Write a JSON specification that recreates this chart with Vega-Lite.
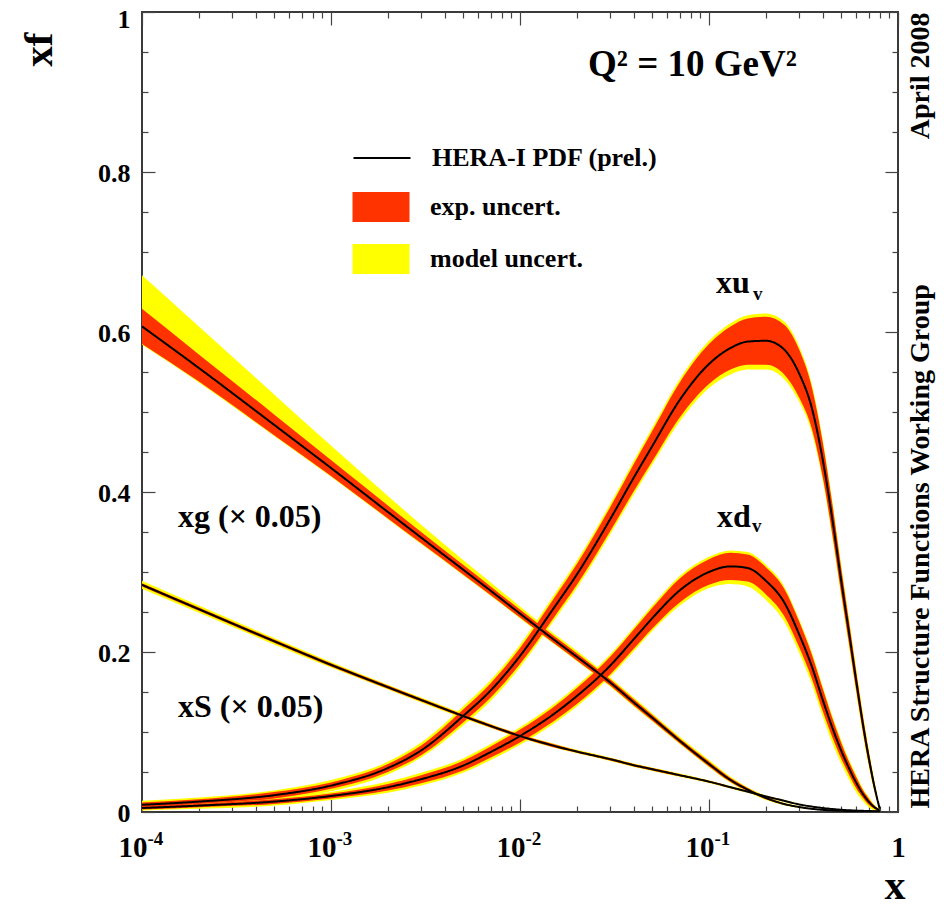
{
  "$schema": "https://vega.github.io/schema/vega-lite/v6.json",
  "width": 756,
  "height": 800,
  "autosize": {"type": "none"},
  "padding": {"left": 142, "top": 12, "right": 46, "bottom": 96},
  "background": "white",
  "config": {
    "view": {"stroke": "#3a3a3a", "strokeWidth": 2},
    "font": "Liberation Serif",
    "axis": {
      "domain": false, "grid": false,
      "labelFont": "Liberation Serif", "labelFontWeight": "bold", "labelColor": "black",
      "tickColor": "#444", "tickWidth": 1.2,
      "titleFont": "Liberation Serif", "titleFontWeight": "bold", "titleColor": "black",
      "labelFlush": false, "labelOverlap": false, "labelBound": false
    },
    "legend": {
      "orient": "none", "padding": 0,
      "labelFont": "Liberation Serif", "labelFontWeight": "bold", "labelFontSize": 26, "labelColor": "black",
      "labelOffset": 34, "labelLimit": 500, "rowPadding": 20, "symbolSize": 900
    }
  },
  "datasets": {
    "pdf": [
      {"c": "xuv", "x": 0.0001, "y": 0.009, "el": 0.006, "eh": 0.012, "ml": 0.004, "mh": 0.014},
      {"c": "xuv", "x": 0.0002, "y": 0.013, "el": 0.010, "eh": 0.016, "ml": 0.008, "mh": 0.018},
      {"c": "xuv", "x": 0.0005, "y": 0.021, "el": 0.017, "eh": 0.025, "ml": 0.015, "mh": 0.027},
      {"c": "xuv", "x": 0.001, "y": 0.033, "el": 0.029, "eh": 0.037, "ml": 0.026, "mh": 0.040},
      {"c": "xuv", "x": 0.002, "y": 0.055, "el": 0.050, "eh": 0.060, "ml": 0.047, "mh": 0.063},
      {"c": "xuv", "x": 0.003, "y": 0.077, "el": 0.071, "eh": 0.083, "ml": 0.068, "mh": 0.087},
      {"c": "xuv", "x": 0.005, "y": 0.120, "el": 0.112, "eh": 0.128, "ml": 0.108, "mh": 0.132},
      {"c": "xuv", "x": 0.007, "y": 0.152, "el": 0.143, "eh": 0.161, "ml": 0.139, "mh": 0.165},
      {"c": "xuv", "x": 0.01, "y": 0.195, "el": 0.185, "eh": 0.205, "ml": 0.181, "mh": 0.209},
      {"c": "xuv", "x": 0.015, "y": 0.254, "el": 0.242, "eh": 0.266, "ml": 0.238, "mh": 0.270},
      {"c": "xuv", "x": 0.02, "y": 0.297, "el": 0.284, "eh": 0.310, "ml": 0.280, "mh": 0.314},
      {"c": "xuv", "x": 0.03, "y": 0.366, "el": 0.351, "eh": 0.381, "ml": 0.347, "mh": 0.385},
      {"c": "xuv", "x": 0.04, "y": 0.418, "el": 0.401, "eh": 0.435, "ml": 0.397, "mh": 0.439},
      {"c": "xuv", "x": 0.05, "y": 0.457, "el": 0.438, "eh": 0.476, "ml": 0.434, "mh": 0.480},
      {"c": "xuv", "x": 0.07, "y": 0.515, "el": 0.493, "eh": 0.537, "ml": 0.488, "mh": 0.541},
      {"c": "xuv", "x": 0.1, "y": 0.560, "el": 0.535, "eh": 0.585, "ml": 0.530, "mh": 0.589},
      {"c": "xuv", "x": 0.13, "y": 0.580, "el": 0.553, "eh": 0.607, "ml": 0.547, "mh": 0.611},
      {"c": "xuv", "x": 0.16, "y": 0.588, "el": 0.559, "eh": 0.617, "ml": 0.553, "mh": 0.621},
      {"c": "xuv", "x": 0.2, "y": 0.589, "el": 0.559, "eh": 0.619, "ml": 0.553, "mh": 0.623},
      {"c": "xuv", "x": 0.25, "y": 0.578, "el": 0.547, "eh": 0.609, "ml": 0.541, "mh": 0.613},
      {"c": "xuv", "x": 0.3, "y": 0.548, "el": 0.518, "eh": 0.578, "ml": 0.513, "mh": 0.582},
      {"c": "xuv", "x": 0.35, "y": 0.505, "el": 0.479, "eh": 0.531, "ml": 0.474, "mh": 0.535},
      {"c": "xuv", "x": 0.4, "y": 0.440, "el": 0.418, "eh": 0.462, "ml": 0.414, "mh": 0.466},
      {"c": "xuv", "x": 0.45, "y": 0.365, "el": 0.346, "eh": 0.384, "ml": 0.342, "mh": 0.388},
      {"c": "xuv", "x": 0.5, "y": 0.290, "el": 0.274, "eh": 0.306, "ml": 0.270, "mh": 0.310},
      {"c": "xuv", "x": 0.55, "y": 0.225, "el": 0.211, "eh": 0.239, "ml": 0.207, "mh": 0.243},
      {"c": "xuv", "x": 0.6, "y": 0.165, "el": 0.153, "eh": 0.177, "ml": 0.149, "mh": 0.181},
      {"c": "xuv", "x": 0.65, "y": 0.112, "el": 0.102, "eh": 0.122, "ml": 0.098, "mh": 0.126},
      {"c": "xuv", "x": 0.7, "y": 0.068, "el": 0.060, "eh": 0.076, "ml": 0.057, "mh": 0.079},
      {"c": "xuv", "x": 0.75, "y": 0.032, "el": 0.027, "eh": 0.037, "ml": 0.025, "mh": 0.039},
      {"c": "xuv", "x": 0.8, "y": 0.004, "el": 0.003, "eh": 0.005, "ml": 0.002, "mh": 0.006},

      {"c": "xdv", "x": 0.0001, "y": 0.005, "el": 0.003, "eh": 0.007, "ml": 0.002, "mh": 0.008},
      {"c": "xdv", "x": 0.0002, "y": 0.008, "el": 0.006, "eh": 0.010, "ml": 0.004, "mh": 0.012},
      {"c": "xdv", "x": 0.0005, "y": 0.013, "el": 0.010, "eh": 0.016, "ml": 0.008, "mh": 0.018},
      {"c": "xdv", "x": 0.001, "y": 0.020, "el": 0.017, "eh": 0.023, "ml": 0.015, "mh": 0.025},
      {"c": "xdv", "x": 0.002, "y": 0.031, "el": 0.027, "eh": 0.035, "ml": 0.024, "mh": 0.038},
      {"c": "xdv", "x": 0.003, "y": 0.041, "el": 0.036, "eh": 0.046, "ml": 0.033, "mh": 0.049},
      {"c": "xdv", "x": 0.005, "y": 0.058, "el": 0.052, "eh": 0.064, "ml": 0.049, "mh": 0.067},
      {"c": "xdv", "x": 0.007, "y": 0.075, "el": 0.068, "eh": 0.082, "ml": 0.065, "mh": 0.085},
      {"c": "xdv", "x": 0.01, "y": 0.095, "el": 0.087, "eh": 0.103, "ml": 0.084, "mh": 0.106},
      {"c": "xdv", "x": 0.015, "y": 0.122, "el": 0.113, "eh": 0.131, "ml": 0.110, "mh": 0.134},
      {"c": "xdv", "x": 0.02, "y": 0.145, "el": 0.135, "eh": 0.155, "ml": 0.132, "mh": 0.158},
      {"c": "xdv", "x": 0.03, "y": 0.183, "el": 0.172, "eh": 0.194, "ml": 0.169, "mh": 0.197},
      {"c": "xdv", "x": 0.04, "y": 0.216, "el": 0.204, "eh": 0.228, "ml": 0.201, "mh": 0.231},
      {"c": "xdv", "x": 0.05, "y": 0.242, "el": 0.229, "eh": 0.255, "ml": 0.226, "mh": 0.258},
      {"c": "xdv", "x": 0.07, "y": 0.277, "el": 0.262, "eh": 0.292, "ml": 0.258, "mh": 0.295},
      {"c": "xdv", "x": 0.1, "y": 0.300, "el": 0.284, "eh": 0.316, "ml": 0.280, "mh": 0.319},
      {"c": "xdv", "x": 0.13, "y": 0.307, "el": 0.290, "eh": 0.324, "ml": 0.285, "mh": 0.327},
      {"c": "xdv", "x": 0.16, "y": 0.305, "el": 0.288, "eh": 0.322, "ml": 0.282, "mh": 0.325},
      {"c": "xdv", "x": 0.2, "y": 0.289, "el": 0.272, "eh": 0.306, "ml": 0.265, "mh": 0.309},
      {"c": "xdv", "x": 0.25, "y": 0.262, "el": 0.245, "eh": 0.279, "ml": 0.238, "mh": 0.282},
      {"c": "xdv", "x": 0.3, "y": 0.222, "el": 0.206, "eh": 0.238, "ml": 0.199, "mh": 0.241},
      {"c": "xdv", "x": 0.35, "y": 0.182, "el": 0.167, "eh": 0.197, "ml": 0.160, "mh": 0.200},
      {"c": "xdv", "x": 0.4, "y": 0.140, "el": 0.126, "eh": 0.154, "ml": 0.119, "mh": 0.157},
      {"c": "xdv", "x": 0.45, "y": 0.105, "el": 0.093, "eh": 0.117, "ml": 0.086, "mh": 0.120},
      {"c": "xdv", "x": 0.5, "y": 0.077, "el": 0.067, "eh": 0.087, "ml": 0.061, "mh": 0.090},
      {"c": "xdv", "x": 0.55, "y": 0.055, "el": 0.047, "eh": 0.063, "ml": 0.041, "mh": 0.066},
      {"c": "xdv", "x": 0.6, "y": 0.037, "el": 0.030, "eh": 0.044, "ml": 0.025, "mh": 0.047},
      {"c": "xdv", "x": 0.65, "y": 0.023, "el": 0.018, "eh": 0.028, "ml": 0.014, "mh": 0.030},
      {"c": "xdv", "x": 0.7, "y": 0.013, "el": 0.009, "eh": 0.017, "ml": 0.006, "mh": 0.019},
      {"c": "xdv", "x": 0.75, "y": 0.006, "el": 0.004, "eh": 0.008, "ml": 0.002, "mh": 0.009},
      {"c": "xdv", "x": 0.8, "y": 0.002, "el": 0.001, "eh": 0.003, "ml": 0.0005, "mh": 0.0035},

      {"c": "xg", "x": 0.0001, "y": 0.607, "el": 0.585, "eh": 0.629, "ml": 0.584, "mh": 0.671},
      {"c": "xg", "x": 0.0002, "y": 0.555, "el": 0.538, "eh": 0.572, "ml": 0.537, "mh": 0.607},
      {"c": "xg", "x": 0.0005, "y": 0.484, "el": 0.471, "eh": 0.497, "ml": 0.470, "mh": 0.522},
      {"c": "xg", "x": 0.001, "y": 0.430, "el": 0.420, "eh": 0.440, "ml": 0.419, "mh": 0.458},
      {"c": "xg", "x": 0.002, "y": 0.375, "el": 0.367, "eh": 0.383, "ml": 0.366, "mh": 0.395},
      {"c": "xg", "x": 0.003, "y": 0.343, "el": 0.336, "eh": 0.350, "ml": 0.335, "mh": 0.359},
      {"c": "xg", "x": 0.005, "y": 0.303, "el": 0.297, "eh": 0.309, "ml": 0.296, "mh": 0.315},
      {"c": "xg", "x": 0.007, "y": 0.2765, "el": 0.271, "eh": 0.282, "ml": 0.270, "mh": 0.287},
      {"c": "xg", "x": 0.01, "y": 0.248, "el": 0.243, "eh": 0.253, "ml": 0.242, "mh": 0.257},
      {"c": "xg", "x": 0.015, "y": 0.216, "el": 0.2115, "eh": 0.2205, "ml": 0.2105, "mh": 0.2235},
      {"c": "xg", "x": 0.02, "y": 0.194, "el": 0.1895, "eh": 0.1985, "ml": 0.1885, "mh": 0.2015},
      {"c": "xg", "x": 0.03, "y": 0.162, "el": 0.158, "eh": 0.166, "ml": 0.157, "mh": 0.168},
      {"c": "xg", "x": 0.04, "y": 0.137, "el": 0.133, "eh": 0.141, "ml": 0.132, "mh": 0.143},
      {"c": "xg", "x": 0.05, "y": 0.118, "el": 0.1145, "eh": 0.1215, "ml": 0.1135, "mh": 0.1235},
      {"c": "xg", "x": 0.07, "y": 0.089, "el": 0.086, "eh": 0.092, "ml": 0.085, "mh": 0.094},
      {"c": "xg", "x": 0.1, "y": 0.060, "el": 0.057, "eh": 0.063, "ml": 0.056, "mh": 0.065},
      {"c": "xg", "x": 0.13, "y": 0.040, "el": 0.0375, "eh": 0.0425, "ml": 0.0365, "mh": 0.044},
      {"c": "xg", "x": 0.16, "y": 0.028, "el": 0.026, "eh": 0.030, "ml": 0.025, "mh": 0.031},
      {"c": "xg", "x": 0.2, "y": 0.0175, "el": 0.016, "eh": 0.019, "ml": 0.015, "mh": 0.020},
      {"c": "xg", "x": 0.25, "y": 0.010, "el": 0.009, "eh": 0.011, "ml": 0.0085, "mh": 0.0115},
      {"c": "xg", "x": 0.3, "y": 0.0062, "el": 0.0055, "eh": 0.0069, "ml": 0.005, "mh": 0.0074},
      {"c": "xg", "x": 0.35, "y": 0.004, "el": 0.0035, "eh": 0.0045, "ml": 0.0032, "mh": 0.0048},
      {"c": "xg", "x": 0.4, "y": 0.0027, "el": 0.0023, "eh": 0.0031, "ml": 0.0021, "mh": 0.0033},
      {"c": "xg", "x": 0.5, "y": 0.0015, "el": 0.0012, "eh": 0.0018, "ml": 0.001, "mh": 0.002},
      {"c": "xg", "x": 0.6, "y": 0.001, "el": 0.0008, "eh": 0.0012, "ml": 0.0007, "mh": 0.0013},
      {"c": "xg", "x": 0.8, "y": 0.0005, "el": 0.0004, "eh": 0.0006, "ml": 0.0003, "mh": 0.0007},

      {"c": "xS", "x": 0.0001, "y": 0.284, "el": 0.282, "eh": 0.286, "ml": 0.279, "mh": 0.289},
      {"c": "xS", "x": 0.0002, "y": 0.2535, "el": 0.2515, "eh": 0.2555, "ml": 0.249, "mh": 0.258},
      {"c": "xS", "x": 0.0005, "y": 0.2135, "el": 0.2115, "eh": 0.2155, "ml": 0.2095, "mh": 0.2175},
      {"c": "xS", "x": 0.001, "y": 0.184, "el": 0.182, "eh": 0.186, "ml": 0.1805, "mh": 0.1875},
      {"c": "xS", "x": 0.002, "y": 0.156, "el": 0.154, "eh": 0.158, "ml": 0.153, "mh": 0.159},
      {"c": "xS", "x": 0.003, "y": 0.140, "el": 0.138, "eh": 0.142, "ml": 0.137, "mh": 0.143},
      {"c": "xS", "x": 0.005, "y": 0.120, "el": 0.118, "eh": 0.122, "ml": 0.117, "mh": 0.123},
      {"c": "xS", "x": 0.007, "y": 0.1075, "el": 0.1055, "eh": 0.1095, "ml": 0.105, "mh": 0.110},
      {"c": "xS", "x": 0.01, "y": 0.095, "el": 0.093, "eh": 0.097, "ml": 0.0925, "mh": 0.0975},
      {"c": "xS", "x": 0.015, "y": 0.083, "el": 0.081, "eh": 0.085, "ml": 0.0805, "mh": 0.0855},
      {"c": "xS", "x": 0.02, "y": 0.0755, "el": 0.074, "eh": 0.077, "ml": 0.0733, "mh": 0.0777},
      {"c": "xS", "x": 0.03, "y": 0.066, "el": 0.0645, "eh": 0.0675, "ml": 0.0638, "mh": 0.0682},
      {"c": "xS", "x": 0.04, "y": 0.0585, "el": 0.057, "eh": 0.060, "ml": 0.0563, "mh": 0.0607},
      {"c": "xS", "x": 0.05, "y": 0.0535, "el": 0.052, "eh": 0.055, "ml": 0.0513, "mh": 0.0557},
      {"c": "xS", "x": 0.07, "y": 0.046, "el": 0.0447, "eh": 0.0473, "ml": 0.044, "mh": 0.048},
      {"c": "xS", "x": 0.1, "y": 0.038, "el": 0.0368, "eh": 0.0392, "ml": 0.0362, "mh": 0.0398},
      {"c": "xS", "x": 0.13, "y": 0.031, "el": 0.030, "eh": 0.032, "ml": 0.0295, "mh": 0.0325},
      {"c": "xS", "x": 0.16, "y": 0.0255, "el": 0.0246, "eh": 0.0264, "ml": 0.0241, "mh": 0.0269},
      {"c": "xS", "x": 0.2, "y": 0.0195, "el": 0.0187, "eh": 0.0203, "ml": 0.0183, "mh": 0.0207},
      {"c": "xS", "x": 0.25, "y": 0.014, "el": 0.0133, "eh": 0.0147, "ml": 0.0129, "mh": 0.0151},
      {"c": "xS", "x": 0.3, "y": 0.0095, "el": 0.009, "eh": 0.010, "ml": 0.0087, "mh": 0.0103},
      {"c": "xS", "x": 0.35, "y": 0.0068, "el": 0.0064, "eh": 0.0072, "ml": 0.0062, "mh": 0.0074},
      {"c": "xS", "x": 0.4, "y": 0.005, "el": 0.0047, "eh": 0.0053, "ml": 0.0045, "mh": 0.0055},
      {"c": "xS", "x": 0.5, "y": 0.0028, "el": 0.0026, "eh": 0.003, "ml": 0.0025, "mh": 0.0031},
      {"c": "xS", "x": 0.6, "y": 0.0018, "el": 0.0016, "eh": 0.002, "ml": 0.0015, "mh": 0.0021},
      {"c": "xS", "x": 0.8, "y": 0.0008, "el": 0.0007, "eh": 0.0009, "ml": 0.0006, "mh": 0.001}
    ],
    "lab": [
      {"t": "xg (× 0.05)", "x": 0.000155, "y": 0.356},
      {"t": "xS (× 0.05)", "x": 0.000155, "y": 0.119},
      {"t": "xu", "x": 0.1089, "y": 0.649},
      {"t": "xd", "x": 0.1102, "y": 0.356}
    ],
    "q2": [
      {"t": "Q² = 10 GeV²", "x": 0.0229, "y": 0.92}
    ],
    "sub": [
      {"t": "v", "x": 0.171, "y": 0.64},
      {"t": "v", "x": 0.1687, "y": 0.35}
    ]
  },
  "layer": [
    {
      "data": {"name": "pdf"},
      "mark": {"type": "area", "interpolate": "monotone", "opacity": 1, "clip": true},
      "encoding": {
        "x": {
          "field": "x", "type": "quantitative",
          "scale": {"type": "log", "domain": [0.0001, 1], "nice": false},
          "axis": {
            "orient": "bottom",
            "offset": -13,
            "tickSize": 13,
            "values": [0.0001, 0.001, 0.01, 0.1, 1],
            "labelExpr": "datum.value >= 0.99 ? '1' : '10'",
            "labelFontSize": 29,
            "labelBaseline": "top",
            "labelPadding": 21,
            "labelAlign": {"condition": {"test": "datum.value >= 0.99", "value": "center"}, "value": "right"},
            "labelOffset": {"condition": {"test": "datum.value >= 0.99", "value": 0}, "value": 5},
            "title": "x",
            "titleFontSize": 42,
            "titleAlign": "right",
            "titleBaseline": "alphabetic",
            "titleX": 763,
            "titleY": 99
          }
        },
        "y": {
          "field": "ml", "type": "quantitative",
          "scale": {"domain": [0, 1], "nice": false},
          "axis": {
            "orient": "left",
            "offset": -13,
            "tickSize": 13,
            "values": [0, 0.2, 0.4, 0.6, 0.8, 1],
            "format": "~g",
            "labelFontSize": 26,
            "labelPadding": 12,
            "labelBaseline": "middle",
            "labelOffset": {"condition": {"test": "datum.value >= 0.99", "value": 7}, "value": 1},
            "title": "xf",
            "titleFontSize": 41,
            "titleAngle": 270,
            "titleAlign": "right",
            "titleBaseline": "alphabetic",
            "titleX": -104,
            "titleY": 20
          }
        },
        "y2": {"field": "mh"},
        "detail": {"field": "c"},
        "color": {
          "datum": "model uncert.",
          "type": "nominal",
          "scale": {"domain": ["exp. uncert.", "model uncert."], "range": ["#ff3300", "#ffff00"]},
          "legend": {
            "title": null,
            "legendX": 224,
            "legendY": 180,
            "symbolType": "M-1.9,-1H1.9V1H-1.9Z",
            "symbolSize": 900,
            "symbolStrokeWidth": 0,
            "symbolOpacity": 1,
            "rowPadding": 22
          }
        }
      }
    },
    {
      "data": {"name": "pdf"},
      "mark": {"type": "area", "interpolate": "monotone", "opacity": 1, "clip": true},
      "encoding": {
        "x": {
          "field": "x", "type": "quantitative",
          "scale": {"type": "log", "domain": [0.0001, 1], "nice": false},
          "axis": {
            "orient": "top", "offset": -13, "tickSize": 13,
            "values": [0.0001, 0.001, 0.01, 0.1, 1],
            "labels": false, "title": null
          }
        },
        "y": {
          "field": "el", "type": "quantitative",
          "scale": {"domain": [0, 1], "nice": false},
          "axis": {
            "orient": "right", "offset": -13, "tickSize": 13,
            "values": [0, 0.2, 0.4, 0.6, 0.8, 1],
            "labels": false, "title": null
          }
        },
        "y2": {"field": "eh"},
        "detail": {"field": "c"},
        "color": {"datum": "exp. uncert.", "type": "nominal"}
      }
    },
    {
      "data": {"name": "pdf"},
      "mark": {"type": "line", "interpolate": "monotone", "strokeWidth": 2, "color": "black", "clip": true},
      "encoding": {
        "x": {
          "field": "x", "type": "quantitative",
          "scale": {"type": "log", "domain": [0.0001, 1], "nice": false},
          "axis": {
            "orient": "bottom",
            "values": [0.0001, 0.001, 0.01, 0.1],
            "ticks": false,
            "labelExpr": "'-' + (-round(log(datum.value)/LN10))",
            "labelFontSize": 19,
            "labelAlign": "left",
            "labelOffset": 5,
            "labelBaseline": "top",
            "labelPadding": 17,
            "title": null
          }
        },
        "y": {
          "field": "y", "type": "quantitative",
          "scale": {"domain": [0, 1], "nice": false},
          "axis": {
            "orient": "right",
            "values": [],
            "ticks": false,
            "labels": false,
            "title": "April 2008",
            "titleFontSize": 28,
            "titleAngle": 270,
            "titleAlign": "right",
            "titleBaseline": "alphabetic",
            "titleX": 30,
            "titleY": 0
          }
        },
        "detail": {"field": "c"},
        "strokeDash": {
          "datum": "HERA-I PDF (prel.)",
          "type": "nominal",
          "scale": {"domain": ["HERA-I PDF (prel.)"], "range": [[1, 0]]},
          "legend": {
            "title": null,
            "legendX": 224,
            "legendY": 130,
            "symbolType": "M-1.9,0H1.9",
            "symbolSize": 900,
            "symbolStrokeColor": "black",
            "symbolStrokeWidth": 2,
            "symbolFillColor": "transparent"
          }
        }
      }
    },
    {
      "data": {"name": "lab"},
      "mark": {"type": "text", "align": "left", "baseline": "alphabetic", "font": "Liberation Serif", "fontWeight": "bold", "fontSize": 32, "color": "black"},
      "encoding": {
        "x": {
          "field": "x", "type": "quantitative",
          "scale": {"type": "log", "domain": [0.0001, 1], "nice": false},
          "axis": {
            "orient": "bottom", "offset": -6, "tickSize": 6,
            "values": [0.0002, 0.0003, 0.0004, 0.0005, 0.0006, 0.0007, 0.0008, 0.0009, 0.002, 0.003, 0.004, 0.005, 0.006, 0.007, 0.008, 0.009, 0.02, 0.03, 0.04, 0.05, 0.06, 0.07, 0.08, 0.09, 0.2, 0.3, 0.4, 0.5, 0.6, 0.7, 0.8, 0.9],
            "labels": false, "title": null
          }
        },
        "y": {
          "field": "y", "type": "quantitative",
          "scale": {"domain": [0, 1], "nice": false},
          "axis": {
            "orient": "left", "offset": -6, "tickSize": 6,
            "values": [0.05, 0.1, 0.15, 0.25, 0.3, 0.35, 0.45, 0.5, 0.55, 0.65, 0.7, 0.75, 0.85, 0.9, 0.95],
            "labels": false, "title": null
          }
        },
        "text": {"field": "t"}
      }
    },
    {
      "data": {"name": "q2"},
      "mark": {"type": "text", "align": "left", "baseline": "alphabetic", "font": "Liberation Serif", "fontWeight": "bold", "fontSize": 37, "color": "black"},
      "encoding": {
        "x": {
          "field": "x", "type": "quantitative",
          "scale": {"type": "log", "domain": [0.0001, 1], "nice": false},
          "axis": {
            "orient": "top", "offset": -6, "tickSize": 6,
            "values": [0.0002, 0.0003, 0.0004, 0.0005, 0.0006, 0.0007, 0.0008, 0.0009, 0.002, 0.003, 0.004, 0.005, 0.006, 0.007, 0.008, 0.009, 0.02, 0.03, 0.04, 0.05, 0.06, 0.07, 0.08, 0.09, 0.2, 0.3, 0.4, 0.5, 0.6, 0.7, 0.8, 0.9],
            "labels": false, "title": null
          }
        },
        "y": {
          "field": "y", "type": "quantitative",
          "scale": {"domain": [0, 1], "nice": false},
          "axis": {
            "orient": "right", "offset": -6, "tickSize": 6,
            "values": [0.05, 0.1, 0.15, 0.25, 0.3, 0.35, 0.45, 0.5, 0.55, 0.65, 0.7, 0.75, 0.85, 0.9, 0.95],
            "labels": false,
            "title": "HERA Structure Functions Working Group",
            "titleFontSize": 28,
            "titleAngle": 270,
            "titleAlign": "left",
            "titleBaseline": "alphabetic",
            "titleX": 36,
            "titleY": 796
          }
        },
        "text": {"field": "t"}
      }
    },
    {
      "data": {"name": "sub"},
      "mark": {"type": "text", "align": "left", "baseline": "alphabetic", "font": "Liberation Serif", "fontWeight": "bold", "fontSize": 19, "color": "black"},
      "encoding": {
        "x": {"field": "x", "type": "quantitative", "scale": {"type": "log", "domain": [0.0001, 1], "nice": false}, "axis": null},
        "y": {"field": "y", "type": "quantitative", "scale": {"domain": [0, 1], "nice": false}, "axis": null},
        "text": {"field": "t"}
      }
    }
  ],
  "resolve": {"axis": {"x": "independent", "y": "independent"}}
}
